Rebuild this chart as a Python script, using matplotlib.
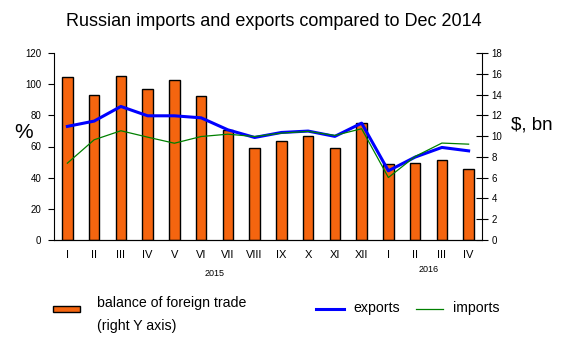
import matplotlib
matplotlib.use('Agg')
import matplotlib.pyplot as plt
import numpy as np

# 월별 라벨 (2015.I ~ 2016.IV)
months = ['I', 'II', 'III', 'IV', 'V', 'VI', 'VII', 'VIII', 'IX', 'X', 'XI', 'XII',
          'I', 'II', 'III', 'IV']
years = ['2015', '2016']

# 무역수지, $ bn (오른쪽 축)
balance = [15.7, 13.95, 15.8, 14.5, 15.4, 13.85, 10.6, 8.85, 9.55, 10.0, 8.85, 11.25,
           7.3, 7.4, 7.7, 6.8]
# 수출, 수입 (% of Dec 2014)
exports = [72.9, 76.3, 85.7, 79.7, 79.7, 78.4, 70.7, 65.8, 69.0, 69.9, 66.5, 75.0,
           44.4, 53.2, 59.4, 57.2]
imports = [49.3, 64.3, 70.1, 66.0, 62.1, 66.4, 67.9, 66.4, 68.6, 69.7, 67.1, 71.4,
           40.1, 53.6, 62.2, 61.5]

plt.rcParams['font.family'] = ['Liberation Sans', 'DejaVu Sans']

fig = plt.figure(figsize=(5.74, 3.43), dpi=100)
ax = fig.add_axes([54/574, 1-240/343, 428/574, 187/343])
ax2 = ax.twinx()

x = np.arange(len(months))
ax2.bar(x, balance, width=0.4, color='#f5650f', edgecolor='black', linewidth=1.0, zorder=1)
ax.plot(x, exports, color='#0000ff', linewidth=2.2, zorder=3)
ax.plot(x, imports, color='#008000', linewidth=0.9, zorder=3)

# 선을 막대 위에 그리기
ax.set_zorder(ax2.get_zorder() + 1)
ax.patch.set_visible(False)

ax.set_xlim(-0.5, len(months) - 0.5)
ax.set_ylim(0, 120)
ax2.set_ylim(0, 18)
ax.set_yticks(range(0, 121, 20))
ax2.set_yticks(range(0, 19, 2))
ax.set_xticks(x)
ax.set_xticklabels(months)

for a in (ax, ax2):
    a.spines['top'].set_visible(False)
    a.tick_params(labelsize=7, colors='black')
ax.spines['right'].set_visible(False)
ax2.spines['left'].set_visible(False)
ax.tick_params(axis='x', length=0, pad=7, labelsize=8)
ax.tick_params(axis='y', length=4, pad=5)
ax2.tick_params(axis='y', direction='inout', length=8, pad=3)

# 연도 라벨
ax.text(5.5, -0.18, years[0], transform=ax.get_xaxis_transform(), ha='center', va='center', fontsize=6.5)
ax.text(13.5, -0.16, years[1], transform=ax.get_xaxis_transform(), ha='center', va='center', fontsize=6.5)

fig.text(24/574, 1-132/343, '%', fontsize=15, ha='center', va='center')
fig.text(532/574, 1-125/343, '$, bn', fontsize=13.5, ha='center', va='center')
fig.text(274/574, 1-22/343, 'Russian imports and exports compared to Dec 2014', fontsize=13,
         ha='center', va='center')

# 범례 (수동)
fig.patches.append(plt.Rectangle((53/574, 1-312/343), 27/574, 6/343, transform=fig.transFigure,
                                 facecolor='#f5650f', edgecolor='black', linewidth=1.0))
fig.text(97/574, 1-303/343, 'balance of foreign trade', fontsize=10.2, va='center')
fig.text(97/574, 1-326/343, '(right Y axis)', fontsize=10.2, va='center')
fig.add_artist(plt.Line2D([316/574, 344/574], [1-309/343]*2, color='#0000ff', linewidth=2.2))
fig.text(353/574, 1-308/343, 'exports', fontsize=10.2, va='center')
fig.add_artist(plt.Line2D([416/574, 443/574], [1-309/343]*2, color='#008000', linewidth=0.9))
fig.text(453/574, 1-308/343, 'imports', fontsize=10.2, va='center')

fig.savefig('out.png', dpi=100)
